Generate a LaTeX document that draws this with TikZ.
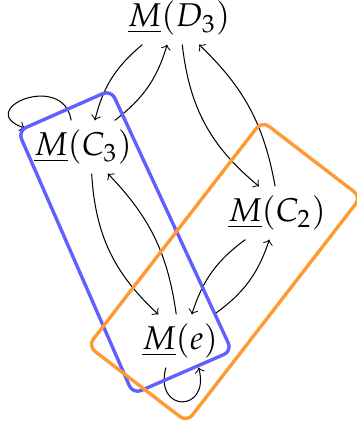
\documentclass[tikz,border=0pt]{standalone}
\usepackage{mathpazo}
\definecolor{myblue}{RGB}{96,96,255}
\definecolor{myorange}{RGB}{255,153,51}
\tikzset{
  arr/.style={->, line width=0.35pt},
  grp/.style={line width=1.15pt, rounded corners=3pt},
  lbl/.style={font=\fontsize{11.2}{13}\selectfont, inner sep=3pt},
}
\begin{document}
\begin{tikzpicture}[x=0.34pt, y=-0.34pt]
\useasboundingbox (0,0) rectangle (356,427);
\node[lbl] (D3) at (179,18) {$\underline{M}(D_3)$};
\node[lbl] (C3) at (83,147) {$\underline{M}(C_3)$};
\node[lbl] (C2) at (277,213) {$\underline{M}(C_2)$};
\node[lbl] (e) at (180,341) {$\underline{M}(e)$};

\draw[arr, bend right=18] (D3.-144) to (C3.66);
\draw[arr, bend right=18] (C3.40) to (D3.-114);
\draw[arr, bend right=22] (D3.-83) to (C2.124);
\draw[arr, bend right=18] (C2.94) to (D3.-53);
\draw[arr, bend right=22] (C3.-72) to (e.129);
\draw[arr, bend right=18] (e.98) to (C3.-47);
\draw[arr, bend right=18] (C2.-140) to (e.66);
\draw[arr, bend right=18] (e.38) to (C2.-106);
\draw[arr] (C3.114) .. controls +(-8,-50) and +(-52,-18) .. (C3.162);
\draw[arr] (e.-118) .. controls +(-12,46) and +(12,45) .. (e.-55);

\coordinate (b1) at (18,131);
\coordinate (b2) at (111,90);
\coordinate (b3) at (232,351);
\coordinate (b4) at (133,394);
\draw[grp, myblue] (b1) -- (b2) -- (b3) -- (b4) -- cycle;
\coordinate (o1) at (262,121);
\coordinate (o2) at (361,197);
\coordinate (o3) at (187,422);
\coordinate (o4) at (88,346);
\draw[grp, myorange] (o1) -- (o2) -- (o3) -- (o4) -- cycle;
\end{tikzpicture}
\end{document}
